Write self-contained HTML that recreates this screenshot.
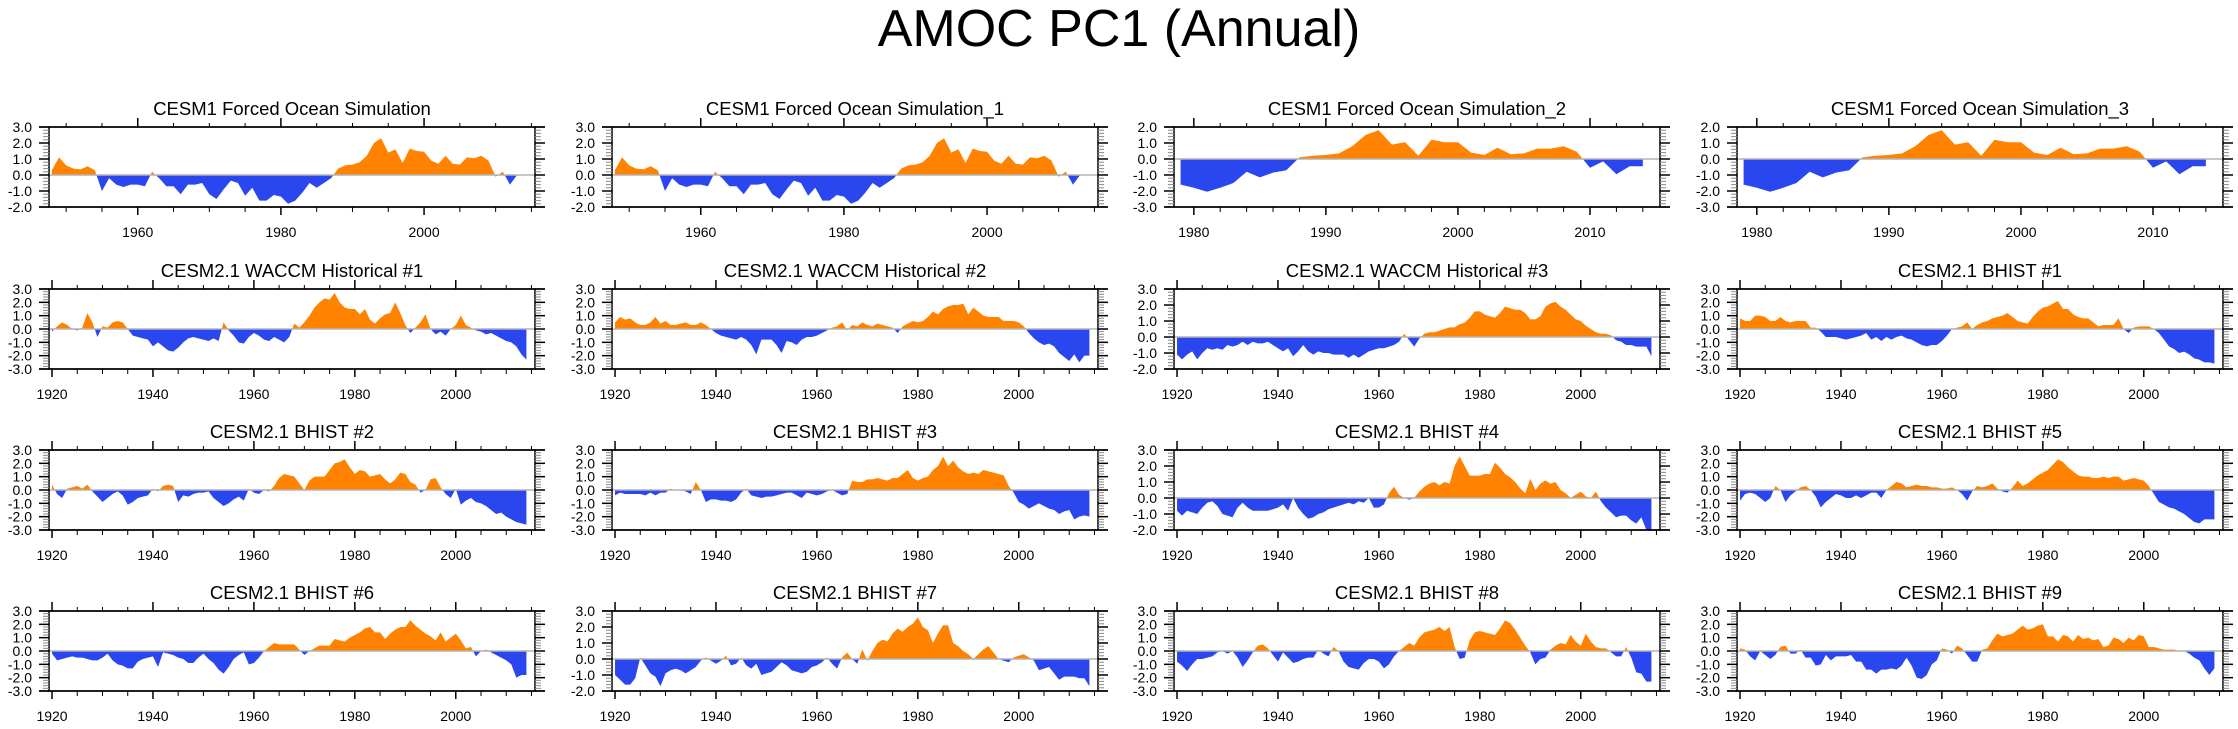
<!DOCTYPE html>
<html><head><meta charset="utf-8">
<style>
html,body{margin:0;padding:0;background:#fff;}
svg{display:block;font-family:"Liberation Sans",Arial,sans-serif;}
</style></head>
<body>
<svg id="chart" width="2238" height="729" viewBox="0 0 2238 729" xmlns="http://www.w3.org/2000/svg">
<rect width="2238" height="729" fill="#fff"/>
<text x="1119" y="46" text-anchor="middle" font-size="52" fill="#000">AMOC PC1 (Annual)</text>
</svg>
<script>
// ---- data (annual values) ----
const titles = ["CESM1 Forced Ocean Simulation","CESM1 Forced Ocean Simulation_1","CESM1 Forced Ocean Simulation_2","CESM1 Forced Ocean Simulation_3",
"CESM2.1 WACCM Historical #1","CESM2.1 WACCM Historical #2","CESM2.1 WACCM Historical #3","CESM2.1 BHIST #1",
"CESM2.1 BHIST #2","CESM2.1 BHIST #3","CESM2.1 BHIST #4","CESM2.1 BHIST #5",
"CESM2.1 BHIST #6","CESM2.1 BHIST #7","CESM2.1 BHIST #8","CESM2.1 BHIST #9"];
const startYears = [1948,1948,1979,1979,1920,1920,1920,1920,1920,1920,1920,1920,1920,1920,1920,1920];
const yMins = [-2,-2,-3,-3,-3,-3,-2,-3,-3,-3,-2,-3,-3,-2,-3,-3];
const yMaxs = [3,3,2,2,3,3,3,3,3,3,3,3,3,3,3,3];

const forcedOcean = [0.3,1.1,
0.6,0.4,0.35,0.55,0.3,-1.0,-0.2,-0.6,-0.75,-0.6,
-0.6,-0.7,0.2,-0.2,-0.7,-0.7,-1.2,-0.6,-0.6,-0.5,
-1.2,-1.5,-0.9,-0.35,-0.5,-1.3,-0.8,-1.6,-1.6,-1.25,
-1.35,-1.8,-1.6,-1.1,-0.5,-0.8,-0.5,-0.2,0.4,0.6,
0.65,0.8,1.2,2.0,2.3,1.4,1.6,0.75,1.65,1.5,
1.45,0.9,0.7,1.2,0.7,0.65,1.1,1.05,1.2,0.9,
-0.1,0.2,-0.6,0.0,0.0];
const forcedOcean1 = forcedOcean.slice();
const forcedOcean2 = [-1.6,-1.8,-2.05,-1.8,-1.5,-0.8,-1.15,-0.85,-0.7,0.1,0.2,0.25,0.35,0.8,1.5,1.8,0.9,1.05,0.2,1.2,1.05,1.05,0.4,0.25,0.7,0.3,0.35,0.65,0.65,0.8,0.45,-0.55,-0.15,-0.95,-0.45,-0.45];
const forcedOcean3 = forcedOcean2.slice();
const waccm1 = [-0.2,0.2,0.5,0.3,0.0,-0.1,0.1,1.2,0.5,-0.6,
0.2,0.1,0.5,0.6,0.5,0.0,-0.5,-0.6,-0.7,-0.8,
-1.3,-1.0,-1.3,-1.6,-1.7,-1.4,-1.0,-0.7,-0.6,-0.7,
-0.8,-0.9,-0.7,-0.9,0.5,-0.1,-0.5,-1.0,-1.1,-0.6,
-0.3,-0.5,-0.8,-0.9,-0.6,-0.8,-1.0,-0.6,0.4,0.1,
0.5,1.0,1.6,2.0,2.3,2.2,2.7,2.0,1.6,1.5,
1.5,1.1,1.5,0.7,0.4,0.8,1.1,1.2,2.0,1.2,
0.3,-0.3,0.1,0.5,1.1,0.0,-0.4,-0.2,-0.5,0.0,
0.3,1.0,0.3,0.1,-0.1,-0.2,-0.4,-0.3,-0.5,-0.7,
-0.9,-1.0,-1.3,-1.9,-2.3];
const waccm2 = [0.5,0.9,0.7,0.8,0.5,0.3,0.3,0.5,0.9,0.4,
0.6,0.3,0.3,0.4,0.5,0.3,0.3,0.5,0.3,0.0,
-0.3,-0.5,-0.6,-0.7,-0.8,-0.6,-0.8,-1.2,-1.9,-0.8,
-0.8,-0.8,-1.2,-1.8,-0.9,-1.0,-1.2,-0.8,-0.6,-0.6,
-0.5,-0.3,-0.1,0.1,0.2,0.5,-0.1,0.3,0.2,0.5,
0.3,0.2,0.4,0.3,0.2,0.1,-0.3,0.2,0.4,0.6,
0.5,0.6,0.9,1.3,1.1,1.5,1.7,1.8,1.8,1.9,
1.1,1.6,1.3,1.0,0.9,0.9,0.9,0.6,0.6,0.6,
0.5,0.2,-0.3,-0.7,-1.0,-1.2,-1.1,-1.3,-1.8,-2.1,
-2.4,-1.9,-2.5,-2.0,-2.0];
const waccm3 = [-1.1,-1.4,-1.1,-0.9,-1.4,-1.0,-0.7,-0.8,-0.7,-0.8,
-0.5,-0.6,-0.5,-0.3,-0.5,-0.3,-0.4,-0.4,-0.3,-0.5,
-0.7,-0.9,-0.7,-1.2,-0.9,-0.5,-0.9,-1.1,-0.9,-1.0,
-1.0,-1.1,-1.1,-1.1,-1.3,-1.1,-1.3,-1.1,-0.9,-0.8,
-0.7,-0.7,-0.6,-0.5,-0.3,0.2,-0.2,-0.6,-0.1,0.2,
0.3,0.3,0.4,0.5,0.6,0.6,0.8,0.9,1.2,1.6,
1.6,1.4,1.3,1.2,1.5,1.9,1.8,1.7,1.7,1.5,
1.1,1.1,1.3,1.9,2.1,2.2,1.9,1.7,1.4,1.1,
1.0,0.7,0.5,0.3,0.2,0.2,0.1,-0.2,-0.3,-0.5,
-0.5,-0.6,-0.6,-0.6,-1.2];
const bhist1 = [0.8,0.6,0.6,1.0,1.0,0.9,0.6,0.6,0.9,0.6,
0.5,0.6,0.6,0.6,0.1,0.1,-0.2,-0.6,-0.6,-0.6,
-0.7,-0.8,-0.7,-0.6,-0.5,-0.3,-0.8,-0.6,-0.9,-0.6,
-0.8,-0.6,-0.5,-0.7,-0.8,-1.0,-1.2,-1.3,-1.2,-1.2,
-0.9,-0.5,0.0,0.1,0.2,0.5,0.0,0.3,0.5,0.6,
0.8,0.9,1.0,1.2,0.9,0.6,0.5,0.4,0.9,1.3,
1.6,1.7,1.9,2.1,1.5,1.5,1.1,0.9,0.8,0.8,
0.5,0.2,0.3,0.3,0.3,0.8,0.0,-0.3,0.1,0.2,
0.2,0.2,0.0,-0.3,-0.8,-1.3,-1.5,-1.8,-1.7,-1.9,
-2.2,-2.3,-2.5,-2.5,-2.6];
const bhist2 = [0.4,-0.3,-0.6,0.1,0.2,0.3,0.1,0.4,-0.1,-0.5,
-0.9,-0.6,-0.3,-0.1,-0.4,-1.1,-0.9,-0.6,-0.5,-0.4,
0.1,-0.1,0.3,0.4,0.3,-0.9,-0.4,-0.5,-0.3,-0.2,
-0.2,-0.1,-0.6,-0.9,-1.2,-1.0,-0.7,-0.5,-0.8,0.1,
-0.2,-0.3,0.0,-0.1,0.3,0.9,1.2,1.1,1.0,0.5,
0.0,0.7,1.0,1.0,1.0,1.5,2.0,2.1,2.3,1.7,
1.2,1.5,1.4,1.0,1.1,1.2,0.8,0.5,0.8,1.3,
1.2,0.6,0.4,-0.2,0.0,0.8,0.9,0.2,-0.3,-0.6,
0.1,-1.1,-0.8,-0.6,-0.9,-1.0,-1.2,-1.5,-1.8,-1.7,
-2.0,-2.2,-2.4,-2.5,-2.6];
const bhist3 = [-0.4,-0.2,-0.3,-0.3,-0.3,-0.3,-0.4,-0.2,-0.4,-0.2,
-0.2,0.1,0.0,0.0,-0.1,-0.3,0.6,0.0,-0.9,-0.7,
-0.7,-0.8,-0.8,-0.9,-0.7,-0.2,0.1,-0.4,-0.5,-0.6,
-0.5,-0.5,-0.4,-0.3,-0.2,-0.2,-0.4,-0.6,-0.2,-0.3,
-0.4,-0.3,-0.1,0.0,-0.2,-0.4,-0.3,0.7,0.6,0.6,
0.8,0.8,0.9,0.8,0.7,0.9,0.9,1.2,1.5,0.9,
0.7,0.9,1.0,1.5,1.8,2.5,1.8,2.2,1.7,1.4,
1.2,1.3,1.2,1.5,1.4,1.3,1.2,1.1,0.3,-0.2,
-0.9,-1.1,-1.4,-1.2,-1.0,-1.2,-1.4,-1.5,-1.8,-1.6,
-1.5,-2.2,-2.0,-1.9,-2.0];
const bhist4 = [-0.8,-1.1,-0.8,-0.9,-1.0,-0.6,-0.3,-0.2,-0.5,-1.0,
-1.1,-1.2,-0.6,-0.3,-0.6,-0.8,-0.8,-0.8,-0.8,-0.7,
-0.6,-0.4,-0.8,0.0,-0.6,-1.0,-1.3,-1.2,-1.0,-0.9,
-0.7,-0.6,-0.5,-0.4,-0.3,-0.4,-0.2,-0.3,0.0,-0.6,
-0.6,-0.4,0.3,0.7,0.2,0.0,-0.1,0.0,0.4,0.7,
0.9,1.0,0.8,1.0,0.9,2.0,2.6,2.0,1.4,1.4,
1.4,1.5,1.5,2.2,1.9,1.5,1.3,1.0,0.6,0.3,
1.2,0.5,0.9,1.1,0.9,1.0,0.5,0.3,0.0,0.2,
0.4,0.1,0.0,0.4,-0.2,-0.6,-0.9,-1.2,-1.1,-1.1,
-1.4,-1.6,-1.2,-2.0,-2.0];
const bhist5 = [-0.8,-0.3,-0.2,-0.3,-0.6,-0.9,-0.6,0.3,0.0,-0.9,
-0.4,-0.1,0.2,0.3,0.0,-0.5,-1.3,-0.9,-0.6,-0.3,
-0.4,-0.6,-0.6,-0.4,-0.6,-0.4,-0.2,-0.2,-0.6,0.0,
0.3,0.6,0.5,0.2,0.3,0.4,0.3,0.3,0.2,0.2,
0.1,0.1,0.2,0.0,-0.3,-0.8,-0.1,0.3,0.2,0.3,
0.5,0.1,-0.1,-0.2,0.2,0.7,0.3,0.5,0.8,1.1,
1.3,1.5,1.9,2.3,2.1,1.7,1.4,1.1,1.0,1.0,
0.9,0.9,1.0,0.9,1.0,1.0,0.7,0.8,0.9,0.8,
0.7,0.3,-0.3,-0.9,-1.1,-1.3,-1.4,-1.6,-1.8,-2.1,
-2.4,-2.5,-2.2,-2.2,-2.2];
const bhist6 = [-0.2,-0.7,-0.6,-0.5,-0.4,-0.5,-0.5,-0.6,-0.7,-0.7,
-0.5,-0.2,-0.7,-1.0,-1.1,-1.3,-1.3,-0.8,-0.6,-0.5,
-0.4,-1.2,-0.1,-0.2,-0.3,-0.5,-0.6,-0.9,-0.9,-0.5,
-0.2,-0.6,-0.9,-1.4,-1.7,-1.2,-0.6,-0.3,-0.1,-1.0,
-0.9,-0.5,0.0,0.3,0.6,0.5,0.5,0.5,0.5,0.1,
-0.3,0.0,0.2,0.4,0.4,0.4,0.9,0.8,0.7,1.0,
1.2,1.4,1.7,1.8,1.4,1.4,0.9,1.3,1.6,1.8,
1.8,2.3,1.9,1.6,1.3,1.1,0.8,1.4,0.7,1.0,
1.3,0.8,0.2,0.3,-0.4,0.0,0.1,-0.1,-0.3,-0.5,
-0.7,-1.0,-2.0,-1.8,-1.8];
const bhist7 = [-1.0,-1.3,-1.6,-1.6,-1.2,0.1,-0.4,-0.9,-1.1,-1.7,
-0.9,-0.7,-0.6,-0.7,-0.9,-0.7,-0.5,-0.1,0.1,-0.1,
-0.3,-0.1,0.2,-0.4,-0.3,0.1,-0.4,-0.6,-0.3,-1.0,
-0.9,-0.8,-0.5,-0.2,-0.4,-0.7,-0.8,-0.9,-0.8,-0.5,
-0.4,-0.2,0.1,-0.3,-0.6,0.1,0.4,0.0,-0.3,0.6,
-0.1,0.5,1.0,1.2,1.1,1.6,1.9,1.7,2.0,2.2,
2.6,2.0,1.8,1.0,1.6,2.1,2.1,1.0,0.8,0.5,
0.3,0.0,0.3,0.6,0.8,0.4,0.0,-0.1,-0.2,0.1,
0.2,0.3,0.1,-0.1,-0.7,-0.6,-0.5,-0.9,-1.3,-1.1,
-1.1,-1.1,-1.2,-1.2,-1.7];
const bhist8 = [-0.8,-1.1,-1.5,-1.0,-0.6,-0.6,-0.5,-0.4,-0.1,0.0,
-0.2,0.0,-0.5,-1.2,-0.7,-0.1,0.4,0.5,0.2,-0.3,
-0.8,-0.1,-0.5,-0.9,-0.8,-0.6,-0.5,-0.5,0.1,-0.2,
-0.4,0.3,0.0,-0.8,-1.2,-1.3,-1.4,-0.9,-0.6,-0.6,
-0.8,-1.3,-1.0,-0.4,0.0,0.3,0.6,0.4,1.0,1.4,
1.5,1.6,1.8,1.5,1.8,0.3,-0.6,-0.5,0.8,1.4,
1.5,1.4,1.3,1.2,1.7,2.3,2.1,1.6,1.0,0.4,
-0.1,-1.0,-0.6,-0.5,0.1,0.4,0.6,0.5,1.2,0.7,
0.4,1.3,0.7,0.3,0.2,0.2,-0.1,-0.4,-0.4,0.3,
-0.5,-1.6,-1.7,-2.3,-2.3];
const bhist9 = [0.2,0.1,-0.4,-0.7,0.0,-0.3,-0.6,-0.3,0.3,0.4,
-0.2,-0.2,0.1,-0.5,-0.5,-1.1,-1.0,-0.3,-0.7,-0.4,
-0.4,-0.4,-0.3,-0.8,-0.8,-1.4,-1.4,-1.7,-1.4,-1.4,
-1.3,-1.4,-1.1,-0.5,-1.1,-2.0,-2.1,-1.8,-1.0,-0.7,
0.2,0.1,-0.2,0.4,0.2,-0.3,-0.8,-0.8,0.1,0.2,
0.8,1.3,1.1,1.2,1.3,1.6,1.9,1.6,1.7,1.9,
2.0,1.1,1.1,0.7,1.2,1.1,0.7,1.2,0.9,1.0,
0.8,0.9,0.3,0.4,1.0,0.9,0.6,1.0,0.8,1.2,
1.1,0.3,0.3,0.2,0.1,0.1,0.1,0.0,0.0,-0.2,
-0.5,-0.7,-1.3,-1.8,-1.3];
const seriesValues = [forcedOcean,forcedOcean1,forcedOcean2,forcedOcean3,waccm1,waccm2,waccm3,bhist1,bhist2,bhist3,bhist4,bhist5,bhist6,bhist7,bhist8,bhist9];

// ---- layout ----
const NS = "http://www.w3.org/2000/svg";
const svg = document.getElementById("chart");
const colX = [0,563,1125,1688];
const rowY = [127,289,450,611];
const BOXW = 486, BOXH = 80;
const ORANGE = "#ff8200", BLUE = "#2a46ee";
function mk(tag, attrs, parent){
  const e = document.createElementNS(NS, tag);
  for (const k in attrs) e.setAttribute(k, attrs[k]);
  (parent||svg).appendChild(e);
  return e;
}
function axisSpec(i){
  if (i < 2) return {xmin:1947.6, xmax:2015.5, major:20, first:1960, minor:5};
  if (i < 4) return {xmin:1978.5, xmax:2015.3, major:10, first:1980, minor:2};
  return {xmin:1919.4, xmax:2015.7, major:20, first:1920, minor:5};
}
for (let i = 0; i < 16; i++) {
  const r = Math.floor(i/4), c = i%4;
  const L = colX[c]+49, T = rowY[r], R = L+BOXW, B = T+BOXH;
  const ax = axisSpec(i);
  const ymin = yMins[i], ymax = yMaxs[i];
  const sx = v => L + (v-ax.xmin)/(ax.xmax-ax.xmin)*BOXW;
  const sy = v => B - (v-ymin)/(ymax-ymin)*BOXH;
  const g = mk("g", {});
  
  

  const t = mk("text", {x:(L+R)/2, y:T-12, "text-anchor":"middle", "font-size":"18.5", fill:"#000"}, g);
  t.textContent = titles[i];
  
  

  const vals = seriesValues[i];
  const y0 = sy(0);
  let d = "M" + sx(startYears[i]).toFixed(2) + "," + y0.toFixed(2);
  vals.forEach((v,k)=>{ d += " L" + sx(startYears[i]+k).toFixed(2) + "," + sy(v).toFixed(2); });
  d += " L" + sx(startYears[i]+vals.length-1).toFixed(2) + "," + y0.toFixed(2) + " Z";
  const cpA = mk("clipPath", {id:"ca"+i}, g); mk("rect", {x:L, y:T, width:BOXW, height:y0-T}, cpA);
  const cpB = mk("clipPath", {id:"cb"+i}, g); mk("rect", {x:L, y:y0, width:BOXW, height:B-y0}, cpB);
  const pA = mk("path", {d:d, fill:ORANGE, "clip-path":"url(#ca"+i+")"}, g);
  
  
  const pB = mk("path", {d:d, fill:BLUE, "clip-path":"url(#cb"+i+")"}, g);
  
  
  const zl = mk("line", {x1:L, x2:R, y1:y0, y2:y0, stroke:"#b4b4b4", "stroke-width":"1.5"}, g);
  
  

  const fr = mk("rect", {x:L, y:T, width:BOXW, height:BOXH, fill:"none", stroke:"#000", "stroke-width":"1.5"}, g);
  
  
  mk("line", {x1:L-10, x2:R+10, y1:T, y2:T, stroke:"#000", "stroke-width":"1.5"}, g);
  mk("line", {x1:L-10, x2:R+10, y1:B, y2:B, stroke:"#000", "stroke-width":"1.5"}, g);

  for (let v = ymin; v <= ymax+1e-6; v += 0.2) {
    const yy = sy(v);
    const isMaj = Math.abs(v - Math.round(v)) < 1e-6;
    mk("line", {x1:L-6, x2:L, y1:yy, y2:yy, stroke:"#888", "stroke-width":"1"}, g);
    mk("line", {x1:R, x2:R+6, y1:yy, y2:yy, stroke:"#888", "stroke-width":"1"}, g);
    if (isMaj) {
      mk("line", {x1:L-10, x2:L, y1:yy, y2:yy, stroke:"#000", "stroke-width":"1.5"}, g);
      mk("line", {x1:R, x2:R+10, y1:yy, y2:yy, stroke:"#000", "stroke-width":"1.5"}, g);
      const yl = mk("text", {x:L-17, y:yy+5, "text-anchor":"end", "font-size":"14", fill:"#000"}, g);
      yl.textContent = Math.round(v).toFixed(1);
      
      
    }
  }
  const startT = Math.ceil(ax.xmin/ax.minor)*ax.minor;
  for (let yr = startT; yr <= ax.xmax; yr += ax.minor) {
    const xx = sx(yr);
    const isMaj = ((yr - ax.first) % ax.major) === 0;
    mk("line", {x1:xx, x2:xx, y1:T, y2:T-(isMaj?9:4), stroke:"#000", "stroke-width":isMaj?"1.5":"1"}, g);
    mk("line", {x1:xx, x2:xx, y1:B, y2:B+(isMaj?8:5), stroke:"#000", "stroke-width":isMaj?"1.5":"1"}, g);
    if (isMaj) {
      const xl = mk("text", {x:xx, y:B+30, "text-anchor":"middle", "font-size":"14", fill:"#000"}, g);
      xl.textContent = String(yr);
      
      
    }
  }
}
</script>
</body></html>
